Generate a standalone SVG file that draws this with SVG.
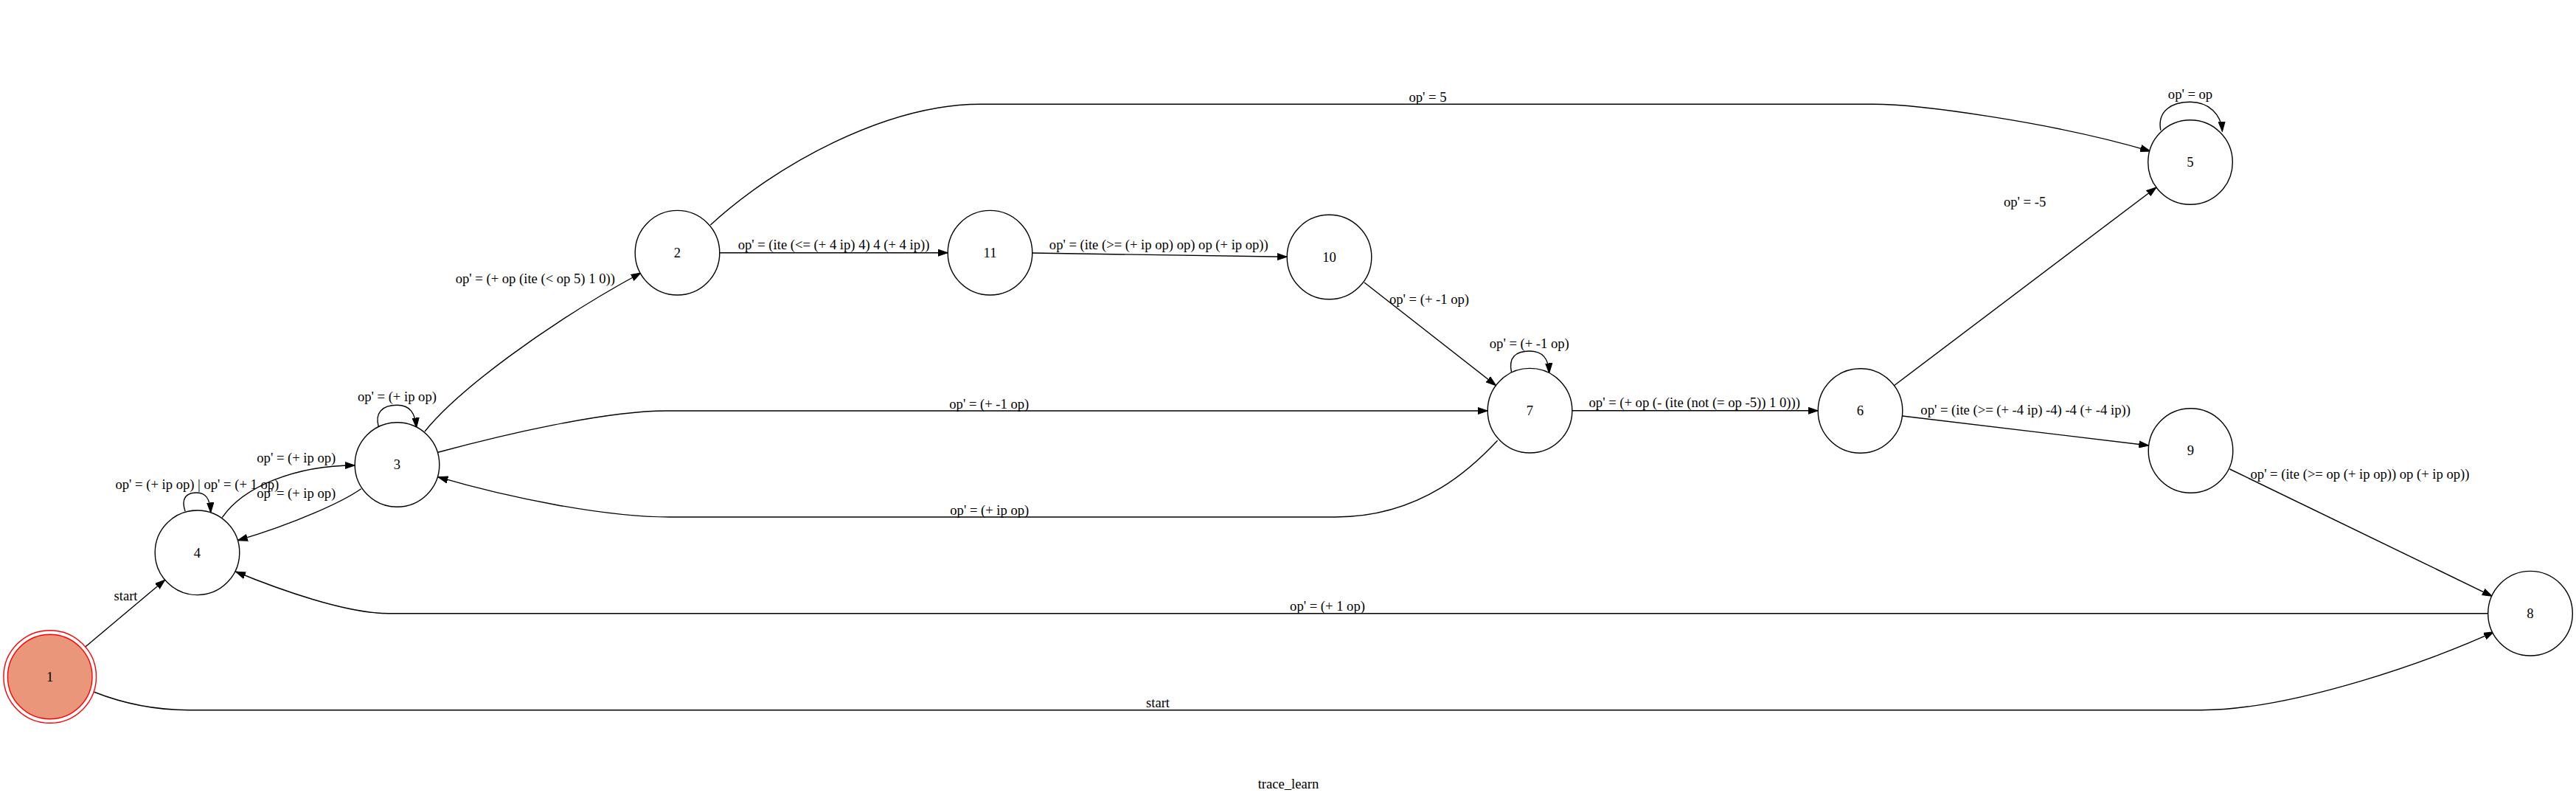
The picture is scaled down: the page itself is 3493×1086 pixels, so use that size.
<svg xmlns="http://www.w3.org/2000/svg" width="3493" height="1086" viewBox="0 0 3493 1086">
<style>
text{font-family:"Liberation Serif","Times New Roman",serif;font-size:18.6px;text-anchor:middle;fill:#000}
.node circle{fill:#fff;stroke:#000;stroke-width:1.4}
.node.init circle{fill:#e9967a;stroke:#ff0000}
.node.init circle.outer{fill:none}
#edges path{fill:none;stroke:#000;stroke-width:1.4;marker-end:url(#arr)}
</style>
<defs>
<marker id="arr" viewBox="0 0 14 10" markerWidth="14" markerHeight="10" refX="13.5" refY="5" orient="auto" markerUnits="userSpaceOnUse">
<path d="M0,0.4 L13.5,5 L0,9.6 z" fill="#000" stroke="#000" stroke-width="1"/>
</marker>
</defs>
<rect width="3493" height="1086" fill="#fff"/>
<g id="edges">
<g id="e1_4"><path d="M115.7,877 L223.7,786.2"/><text x="170.5" y="814">start</text></g>
<g id="e1_8"><path d="M127,938 C165,953 205,962.7 256,962.7 L2985,962.7 C3110,962.7 3305,893 3381.6,856.7"/><text x="1570" y="958.5">start</text></g>
<g id="e8_4"><path d="M3373.7,831.7 L527,831.7 C470,831.7 380,800 319.5,775"/><text x="1800" y="827.5">op' = (+ 1 op)</text></g>
<g id="e4_4"><path d="M251,693 C245,675 253,668 267,668 C279,668 285,676 285.7,695"/><text x="267.4" y="663">op' = (+ ip op) | op' = (+ 1 op)</text></g>
<g id="e4_3"><path d="M301.3,701.7 C330,660 400,631 481.2,631"/><text x="401.8" y="626.5">op' = (+ ip op)</text></g>
<g id="e3_4"><path d="M489.7,662.7 C465,680 400,710 322.3,732.7"/><text x="401.8" y="675">op' = (+ ip op)</text></g>
<g id="e3_3"><path d="M513.4,579 C508,560 518,549.3 538.5,549.3 C556,549.3 563,560 564.7,580"/><text x="538.4" y="544">op' = (+ ip op)</text></g>
<g id="e3_2"><path d="M576,585 C620,530 740,440 869,370"/><text x="725.8" y="383.5">op' = (+ op (ite (&lt; op 5) 1 0))</text></g>
<g id="e2_11"><path d="M976,342.7 L1285.2,342.7"/><text x="1130.5" y="338">op' = (ite (&lt;= (+ 4 ip) 4) 4 (+ 4 ip))</text></g>
<g id="e11_10"><path d="M1399.8,343 L1745.2,348.3"/><text x="1571.3" y="338.3">op' = (ite (&gt;= (+ ip op) op) op (+ ip op))</text></g>
<g id="e10_7"><path d="M1850,383 L2028.6,522.7"/><text x="1938" y="411.5">op' = (+ -1 op)</text></g>
<g id="e7_7"><path d="M2049.6,505 C2045,485 2055,476 2074,476 C2092,476 2100,486 2100.6,506"/><text x="2073.8" y="471.5">op' = (+ -1 op)</text></g>
<g id="e3_7"><path d="M593.9,613.3 C680,590 820,557 903,557 L2017.2,557"/><text x="1341.3" y="553.8">op' = (+ -1 op)</text></g>
<g id="e7_3"><path d="M2030.6,597.3 C2000,630 1930,701 1811,701 L908,701 C820,701 690,675 593.9,646.7"/><text x="1341.8" y="697.5">op' = (+ ip op)</text></g>
<g id="e7_6"><path d="M2131.8,556.8 L2465.2,556.8"/><text x="2297.7" y="552">op' = (+ op (- (ite (not (= op -5)) 1 0)))</text></g>
<g id="e6_5"><path d="M2568.4,522.7 L2924,254"/><text x="2745.6" y="279.5">op' = -5</text></g>
<g id="e6_9"><path d="M2579.7,564 L2913.7,604"/><text x="2746.6" y="562">op' = (ite (&gt;= (+ -4 ip) -4) -4 (+ -4 ip))</text></g>
<g id="e9_8"><path d="M3023.5,636 L3379.3,808.3"/><text x="3200" y="649">op' = (ite (&gt;= op (+ ip op)) op (+ ip op))</text></g>
<g id="e5_5"><path d="M2929.8,176.7 C2925,150 2945,138.3 2970,138.3 C2995,138.3 3012,155 3013.4,178.3"/><text x="2970" y="134">op' = op</text></g>
<g id="e2_5"><path d="M963.4,305 C1050,225 1200,141.3 1330,141.3 L2540,141.3 C2600,141.3 2780,165 2915.8,205"/><text x="1936" y="138">op' = 5</text></g>
</g>
<g id="n1" class="node init"><circle class="outer" cx="67.7" cy="917.5" r="62.8"/><circle cx="67.7" cy="917.5" r="57.3"/><text x="67.7" y="923.8">1</text></g>
<g id="n2" class="node"><circle cx="918.5" cy="342.7" r="57.3"/><text x="918.5" y="349">2</text></g>
<g id="n3" class="node"><circle cx="538.5" cy="630" r="57.3"/><text x="538.5" y="636.3">3</text></g>
<g id="n4" class="node"><circle cx="267.5" cy="749.3" r="57.3"/><text x="267.5" y="755.6">4</text></g>
<g id="n5" class="node"><circle cx="2970" cy="220" r="57.3"/><text x="2970" y="226.3">5</text></g>
<g id="n6" class="node"><circle cx="2522.5" cy="557" r="57.3"/><text x="2522.5" y="563.3">6</text></g>
<g id="n7" class="node"><circle cx="2074.5" cy="556.7" r="57.3"/><text x="2074.5" y="563">7</text></g>
<g id="n8" class="node"><circle cx="3431" cy="831.7" r="57.3"/><text x="3431" y="838">8</text></g>
<g id="n9" class="node"><circle cx="2970.5" cy="611" r="57.3"/><text x="2970.5" y="617.3">9</text></g>
<g id="n10" class="node"><circle cx="1802.5" cy="348.5" r="57.3"/><text x="1802.5" y="354.8">10</text></g>
<g id="n11" class="node"><circle cx="1342.5" cy="342.7" r="57.3"/><text x="1342.5" y="349">11</text></g>
<text id="title" x="1747" y="1069">trace_learn</text>
</svg>
